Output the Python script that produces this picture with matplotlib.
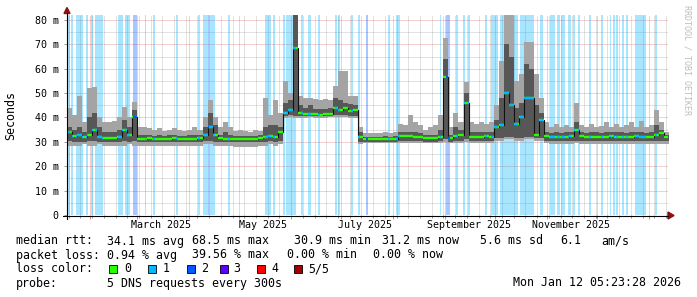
import numpy as np
import matplotlib
matplotlib.use("Agg")
import matplotlib.pyplot as plt
import matplotlib.dates as mdates
import matplotlib.transforms as mtrans
from matplotlib.lines import Line2D
from matplotlib.patches import Rectangle, Polygon
from matplotlib.ticker import MultipleLocator, FuncFormatter, NullFormatter

W, H = 697, 297

# time range of the graph and size of one smoke bin
start = np.datetime64("2025-01-18T00:00")
end = np.datetime64("2026-01-12T05:23")
step = 3  # days

# median rtt per bin (ms)
median = [34, 32.5, 33, 32, 33, 35, 32, 31.5, 31.5, 31.5,
          32, 35, 33, 40, 31, 31, 31.5, 31, 31, 31,
          31, 31.5, 31, 31, 31, 31, 31.5, 33, 36, 33,
          31.5, 31, 31, 31, 31, 31, 31, 31, 31.5, 32,
          32.5, 32, 34, 42, 43, 68.5, 42, 41.5, 41.5, 41.5,
          41, 41.5, 41.5, 44, 43, 44, 42.5, 43, 32, 31,
          31, 31, 31, 31, 31, 31, 32.5, 32.5, 32.5, 32,
          32, 31.5, 31.5, 31.5, 32, 56.7, 31.5, 32.5, 33, 46,
          32, 32, 32, 32.5, 32, 36, 37, 50, 45, 37.5,
          40, 48, 48, 33, 39, 32.5, 32, 32, 32, 32,
          32.5, 35, 32.5, 32, 32, 32, 32, 32, 32.5, 32,
          32, 32, 32, 32.5, 32, 32, 32, 33, 33.5, 32]
# smoke: outer band (min..max ping) and inner band
hi_out = [44, 41, 49, 38, 52, 52.5, 40, 38, 38, 38.5,
          40, 44.5, 40, 46.5, 36, 36, 35.5, 35, 35.5, 34.5,
          35, 35.5, 35, 34.5, 35, 36, 35, 40, 47, 40,
          36, 38, 36, 34.5, 35, 34.5, 34, 35, 34.5, 48,
          41, 47, 42, 55, 50, 84, 49, 48, 48, 47.5,
          47, 47.5, 47, 53, 59, 59, 49, 49, 36, 33.5,
          33.5, 33.5, 33.5, 34, 33.5, 34, 37.5, 37, 41, 38,
          37, 35, 36, 37, 41, 72.5, 36, 42, 38, 54.7,
          38, 37.5, 38, 37.5, 38, 45, 63, 84, 84, 55,
          58, 71, 71, 58, 48, 38, 36, 37.5, 36, 37,
          36, 46, 37, 36, 37.5, 36, 36.5, 38, 36, 37.5,
          36, 37, 38, 36, 38.5, 36, 37, 43, 38, 34]
hi_in = [36, 35, 36, 34, 40, 42, 36, 34, 34, 34,
         35, 39, 36, 43, 33, 33, 33, 32.5, 33, 32.5,
         33, 33, 32.5, 32.5, 33, 33, 33, 36, 42, 37,
         33, 34, 33, 32.5, 32.5, 32.5, 32.5, 32.5, 33, 36,
         37, 37, 36, 46, 47, 83, 45, 44, 45, 43.5,
         43.5, 43.5, 44, 48, 47, 46, 45.5, 45, 34, 32,
         32, 32, 32, 32.5, 32, 32.5, 34, 34, 34, 34,
         33.5, 33, 33, 33, 35, 64, 33, 36, 35, 50,
         34, 34, 34, 34, 34, 39, 48, 70, 65, 44,
         46, 62, 60, 45, 42, 34, 33.5, 34, 33.5, 34,
         34, 38, 34, 33.5, 34, 34, 33.5, 34, 34, 34,
         34, 33.5, 34, 34, 34, 33.5, 34, 37, 35, 33]
lo_in = [30.5, 30, 30, 30, 30.5, 30.5, 30, 30, 30, 30,
         30, 30.5, 30, 30.5, 30, 30, 30, 30, 30, 30,
         30, 30, 30, 30, 30, 30, 30, 30.5, 30.5, 30,
         30, 30, 30, 29.8, 29.8, 29.8, 29.8, 29.8, 30, 30,
         30.5, 30, 30.5, 40.5, 41, 40.5, 40.5, 40.5, 40.5, 40.5,
         40.5, 40.5, 40.5, 41, 41, 41, 40.5, 40.5, 30, 30,
         30, 30, 30, 30, 30, 30, 30.5, 30.5, 30.5, 30.5,
         30.5, 30, 30, 30, 30.5, 31, 30, 30.5, 30.5, 31,
         30.5, 30.5, 30.5, 30.5, 30.5, 31.5, 31.5, 32, 32, 31.5,
         31.5, 32, 32, 31.5, 31.5, 30.5, 30.5, 30.5, 30.5, 30.5,
         30.5, 30.5, 30.5, 30.5, 30.5, 30.5, 30.5, 30.5, 30.5, 30.5,
         30.5, 30.5, 30.5, 30.5, 30.5, 30.5, 30.5, 30.5, 30.5, 30.5]
lo_out = [28.5, 28.5, 28.5, 29, 28.5, 28.5, 29, 28.5, 28.5, 28.5,
          28.5, 28.5, 29, 28.5, 28.5, 28.5, 28.5, 28.5, 28.5, 28.5,
          28.5, 28.5, 28.5, 28.5, 28.5, 28.5, 28.5, 29, 29, 28.5,
          28.5, 28.5, 28.5, 28, 28, 28, 28, 28, 28.5, 28.5,
          29, 28.5, 29, 39.8, 40, 39.8, 39.8, 39.8, 40, 39.8,
          39.8, 39.8, 40, 40, 40.2, 40.2, 39.8, 39.8, 29, 29.5,
          29.5, 29.5, 29.5, 29.5, 29.5, 29.5, 29.5, 29.5, 29.5, 29.5,
          29.5, 29.5, 29.5, 29.5, 29.5, 30, 29.5, 29.5, 29.5, 30,
          29.5, 29.5, 29.5, 29.5, 29.5, 30.5, 30.5, 31, 31, 30.5,
          30.5, 31, 31, 30.5, 30.5, 29.5, 29.2, 29.2, 29.2, 29.2,
          29.2, 29.5, 29.2, 29.2, 29.2, 29.2, 29.2, 29.2, 29.2, 29.2,
          29.2, 29.2, 29.2, 29.2, 29.2, 29.2, 29.2, 29.2, 29.2, 29.2]

# loss periods: start (days after graph start), length (days), lost pings
loss_day = [0.6, 2.4, 5.4, 11.4, 14.3, 16.7, 30.5, 34.7, 39.5, 46.6,
            51.4, 65.2, 78.3, 81.3, 84.3, 84.9, 96.2, 118.3, 123.1, 129.1,
            130.9, 139.9, 144.1, 150.0, 160.2, 162.0, 169.8, 174.0, 178.7, 191.9,
            196.7, 223.0, 226.5, 232.5, 236.7, 239.7, 249.9, 253.4, 258.8, 270.8,
            282.7, 288.7, 292.9, 295.3, 299.5, 302.5, 305.5, 312.0, 319.2, 324.6,
            326.4, 328.2, 331.8, 334.1, 339.5, 351.5]
loss_len = [1.2, 1.2, 4.2, 1.2, 1.2, 4.8, 3.0, 3.0, 2.4, 0.6,
            1.2, 1.2, 1.2, 3.0, 0.6, 3.6, 1.2, 3.6, 1.2, 1.2,
            6.0, 1.2, 1.8, 1.2, 1.2, 1.2, 1.2, 1.2, 1.2, 1.2,
            2.4, 0.6, 2.4, 1.2, 1.2, 1.2, 1.2, 4.2, 10.8, 8.4,
            1.8, 3.0, 1.8, 2.4, 1.8, 1.2, 1.2, 1.2, 1.2, 0.6,
            1.2, 1.2, 1.2, 1.2, 6.6, 1.2]
loss_cnt = [1, 1, 1, 1, 1, 1, 1, 1, 2, 1,
            1, 1, 1, 1, 2, 1, 1, 1, 1, 1,
            1, 1, 1, 1, 1, 1, 1, 1, 2, 1,
            1, 1, 2, 1, 1, 1, 1, 1, 1, 1,
            1, 1, 1, 1, 1, 1, 1, 1, 1, 1,
            1, 1, 1, 1, 1, 1]

loss_colors = ['#26ff00', '#00b8ff', '#0059ff', '#5e00ff', '#ff0000', '#a00000']
loss_labels = ['0', '1', '2', '3', '4', '5/5']

month_labels = ['2025-03-15', '2025-05-15', '2025-07-15', '2025-09-15', '2025-11-15']
month_names = ['March 2025', 'May 2025', 'July 2025', 'September 2025', 'November 2025']

MONO = 'DejaVu Sans Mono'


def fpos(x, y):
    return x / W, 1 - y / H


t0 = mdates.date2num(start)
t1 = mdates.date2num(end)
edges = t0 + step * np.arange(len(median) + 1)


def ext(a):
    return list(a) + [a[-1]]


fig = plt.figure(figsize=(W / 100, H / 100), dpi=100)
fig.patch.set_facecolor('white')
ax = fig.add_axes([67 / W, 1 - 215 / H, (668 - 67) / W, 200 / H])
ax.set_xlim(t0, t1)
ax.set_ylim(0, 82.05)
ax.set_axisbelow(True)
for s in ax.spines.values():
    s.set_visible(False)

# loss background bars
for d, ln, c in zip(loss_day, loss_len, loss_cnt):
    ax.axvspan(t0 + d, t0 + d + ln, color=loss_colors[c], alpha=0.34, lw=0, zorder=1)

# smoke
ax.fill_between(edges, ext(lo_out), ext(hi_out), step='post', color='#a4a4a4', lw=0, zorder=1.5)
ax.fill_between(edges, ext(lo_in), ext(hi_in), step='post', color='#575757', lw=0, zorder=1.6)

# median: thin dark step line, coloured by loss on top
ax.step(edges, ext(median), where='post', color='#111111', lw=0.8, zorder=2.8)
ax.hlines(median, edges[:-1], edges[1:], color=loss_colors[0], lw=1.7, zorder=3,
          capstyle='butt')
for d, ln, c in zip(loss_day, loss_len, loss_cnt):
    a, b = d, d + ln
    i = int(a // step)
    while i < len(median) and i * step < b:
        lo = max(a, i * step)
        hi = min(b, (i + 1) * step)
        ax.plot([t0 + lo, t0 + hi], [median[i], median[i]], color=loss_colors[c], lw=1.7,
                solid_capstyle='butt', zorder=3.1)
        i += 1

# grid
ax.xaxis.set_major_locator(mdates.MonthLocator())
ax.xaxis.set_minor_locator(mdates.WeekdayLocator(byweekday=mdates.SU))
ax.xaxis.set_major_formatter(NullFormatter())
ax.yaxis.set_major_locator(MultipleLocator(10))
ax.yaxis.set_minor_locator(MultipleLocator(5))
ax.yaxis.set_major_formatter(FuncFormatter(lambda v, p: '0' if v == 0 else '%d m' % v))
ax.grid(which='major', color=(0.88, 0.31, 0.31), alpha=0.55, lw=0.72, ls=(0, (1, 1)))
ax.grid(which='minor', color=(0.5, 0.5, 0.5), alpha=0.45, lw=0.72, ls=(0, (1, 1)))
ax.tick_params(axis='x', which='major', length=3, width=0.7, color=(0.9, 0.5, 0.5))
ax.tick_params(axis='x', which='minor', length=2, width=0.7, color=(0.6, 0.6, 0.6))
ax.tick_params(axis='y', which='both', length=2, width=0.7, color=(0.6, 0.6, 0.6), pad=4,
               labelsize=7.2, labelfontfamily=MONO)
ax.tick_params(axis='y', which='minor', length=0)

lab_tr = mtrans.blended_transform_factory(ax.transData, ax.transAxes)
for m, name in zip(month_labels, month_names):
    tm = mdates.date2num(np.datetime64(m))
    ax.text(tm, -10.5 / 200, name, transform=lab_tr, ha='center', va='center',
            fontsize=7.2, family=MONO, clip_on=False)

# axis lines with arrows
fig.add_artist(Line2D([63 / W, 668 / W], [1 - 215.5 / H] * 2, color='black', lw=0.8))
fig.add_artist(Line2D([67 / W] * 2, [1 - 219 / H, 1 - 13 / H], color='black', lw=0.8))
fig.add_artist(Polygon([fpos(668, 212), fpos(674, 215.5), fpos(668, 219)], closed=True,
                       color='#8b1010', transform=fig.transFigure))
fig.add_artist(Polygon([fpos(64, 13.5), fpos(67, 7.5), fpos(70, 13.5)], closed=True,
                       color='#8b1010', transform=fig.transFigure))

fig.text(*fpos(11, 115), 'Seconds', rotation=90, ha='center', va='center',
         fontsize=8.4, family=MONO)
fig.text(*fpos(687.5, 5), 'RRDTOOL / TOBI OETIKER', rotation=-90, ha='center', va='top',
         fontsize=6, family=MONO, color='#bdbdbd')


# legend block
def ltext(x, y, s, **kw):
    fig.text(*fpos(x, y), s, ha='left', va='center', fontsize=8.4, family=MONO, **kw)


ltext(16, 241, 'median rtt:')
for x, s in zip([107, 192, 294, 382, 480, 560, 601],
                ['34.1 ms avg', '68.5 ms max', '30.9 ms min', '31.2 ms now',
                 '5.6 ms sd', '6.1', 'am/s']):
    ltext(x, 241, s)
ltext(16, 255, 'packet loss:')
for x, s in zip([107, 192, 287, 373],
                ['0.94 % avg', '39.56 % max', '0.00 % min', '0.00 % now']):
    ltext(x, 255, s)
ltext(16, 269, 'loss color:')
for bx, tx, c, s in zip([109, 148, 187, 220, 257, 294], [124, 163, 201, 233, 271, 308],
                        loss_colors, loss_labels):
    fig.add_artist(Rectangle(fpos(bx, 273), 8 / W, 8 / H, facecolor=c, edgecolor='black',
                             lw=0.6, transform=fig.transFigure))
    ltext(tx, 269, s)
ltext(16, 283, 'probe:')
ltext(107, 283, '5 DNS requests every 300s')
fig.text(*fpos(681, 283), 'Mon Jan 12 05:23:28 2026', ha='right', va='center',
         fontsize=8.4, family=MONO)

fig.savefig('out.png', dpi=100, facecolor='white')
